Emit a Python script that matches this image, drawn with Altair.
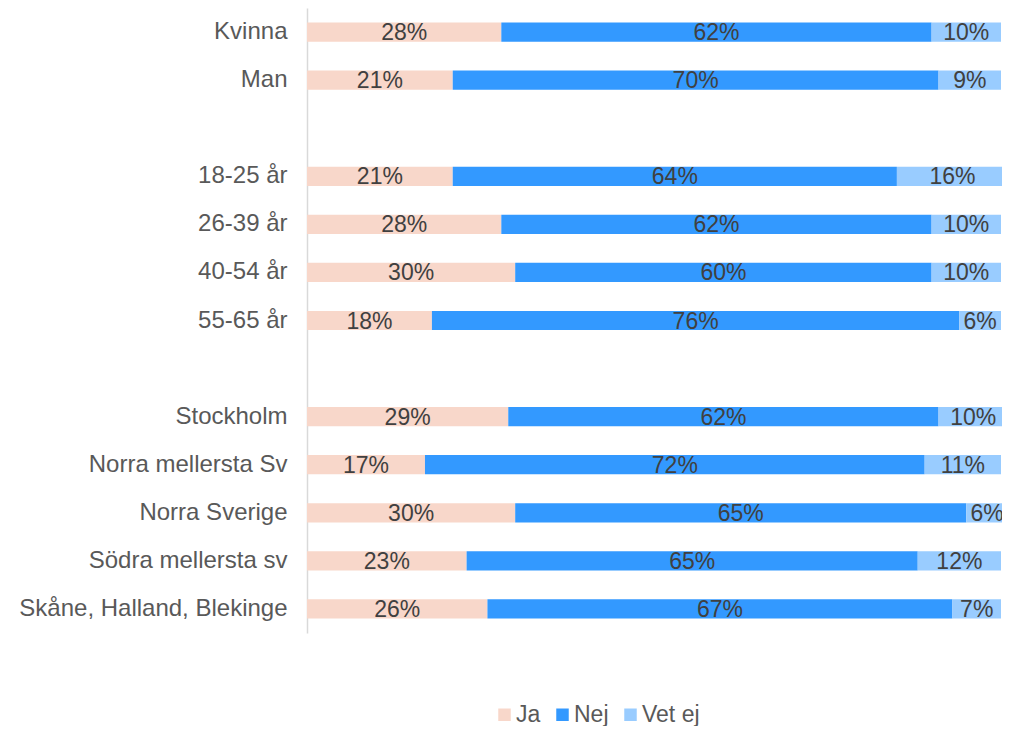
import altair as alt
import pandas as pd

categories = ["Kvinna", "Man", " ", "18-25 år", "26-39 år", "40-54 år", "55-65 år", "  ",
              "Stockholm", "Norra mellersta Sv", "Norra Sverige", "Södra mellersta sv",
              "Skåne, Halland, Blekinge"]
data_cats = ["Kvinna", "Man", "18-25 år", "26-39 år", "40-54 år", "55-65 år",
             "Stockholm", "Norra mellersta Sv", "Norra Sverige", "Södra mellersta sv",
             "Skåne, Halland, Blekinge"]
ja = [28, 21, 21, 28, 30, 18, 29, 17, 30, 23, 26]
nej = [62, 70, 64, 62, 60, 76, 62, 72, 65, 65, 67]
vet_ej = [10, 9, 16, 10, 10, 6, 10, 11, 6, 12, 7]
series = ["Ja", "Nej", "Vet ej"]
colors = ["#F8D7CA", "#3399FF", "#99CCFF"]

rows = []
for i, c in enumerate(data_cats):
    for k, (s, v) in enumerate(zip(series, [ja[i], nej[i], vet_ej[i]])):
        rows.append({"cat": c, "serie": s, "order": k, "value": v, "label": f"{v}%"})
df = pd.DataFrame(rows)

FONT = "Liberation Sans"

base = alt.Chart(df).transform_stack(
    stack="value", groupby=["cat"], as_=["x0", "x1"],
    sort=[alt.SortField("order", order="ascending")]
).transform_calculate(mid="(datum.x0 + datum.x1) / 2")

yscale = alt.Scale(domain=categories, paddingInner=0.6)
yenc = alt.Y("cat:N", scale=yscale,
             axis=alt.Axis(title=None, ticks=False, tickSize=0, labelPadding=20,
                           labelFontSize=24, labelColor="#595959", labelFont=FONT,
                           domainColor="#D9D9D9", domainWidth=1.5, labelLimit=400,
                           grid=False))
xscale = alt.Scale(domain=[0, 100], nice=False, zero=True)

bars = base.mark_bar().encode(
    x=alt.X("x0:Q", scale=xscale, axis=None),
    x2="x1:Q",
    y=yenc,
    color=alt.Color("serie:N", scale=alt.Scale(domain=series, range=colors),
                    legend=alt.Legend(title=None, orient="none", direction="horizontal",
                                      legendX=186, legendY=695, padding=0,
                                      symbolType="square", symbolOffset=0,
                                      symbolSize=156, symbolStrokeWidth=0,
                                      labelFontSize=23, labelColor="#595959",
                                      labelFont=FONT, labelOffset=0, columnPadding=10)),
)

texts = base.mark_text(fontSize=23, color="#404040", font=FONT, baseline="middle", dy=1).encode(
    x=alt.X("mid:Q", scale=xscale),
    y=alt.Y("cat:N", scale=yscale),
    text="label:N",
)

chart = alt.layer(bars, texts).properties(
    width=694, height=625,
    padding={"left": 299, "top": 0, "right": 1, "bottom": 93},
    autosize=alt.AutoSizeParams(type="none"),
    background="white",
).configure_view(stroke=None)

chart.save("out.html", embed_options={"renderer": "svg", "actions": False})
